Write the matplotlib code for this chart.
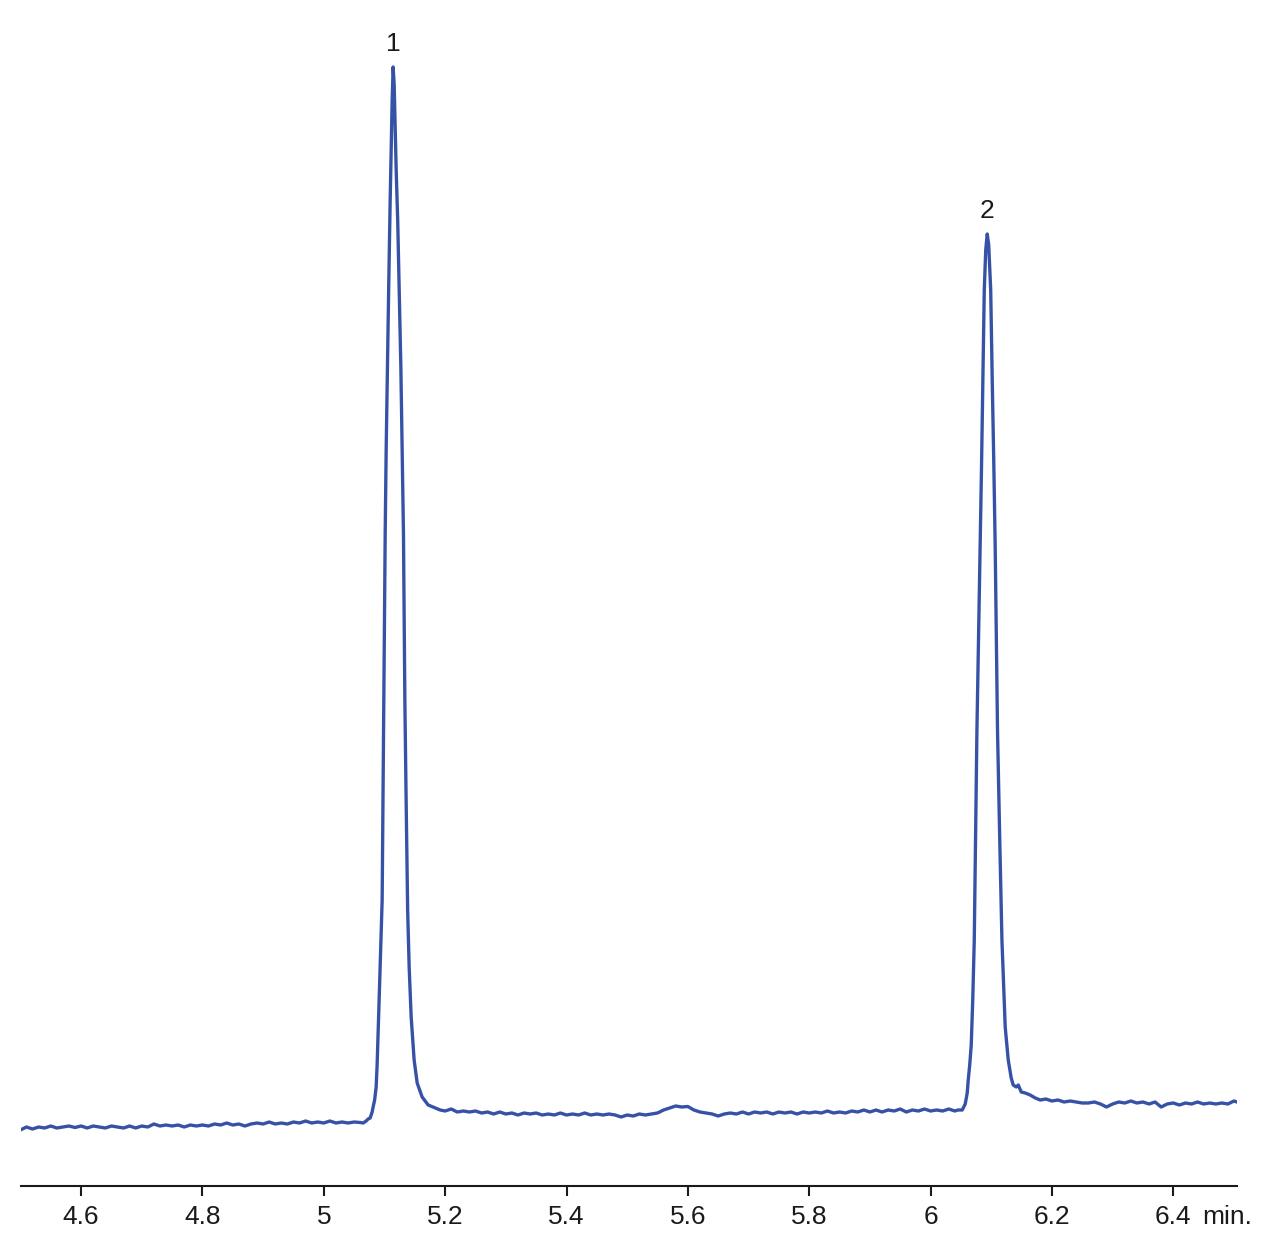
import matplotlib
matplotlib.use('Agg')
import matplotlib.pyplot as plt
import numpy as np

plt.rcParams['font.family'] = ['Liberation Sans', 'DejaVu Sans']

# retention time (min) and detector signal (arbitrary units)
time_pre = [4.50, 4.51, 4.52, 4.53, 4.54, 4.55, 4.56, 4.57, 4.58, 4.59,
            4.60, 4.61, 4.62, 4.63, 4.64, 4.65, 4.66, 4.67, 4.68, 4.69,
            4.70, 4.71, 4.72, 4.73, 4.74, 4.75, 4.76, 4.77, 4.78, 4.79,
            4.80, 4.81, 4.82, 4.83, 4.84, 4.85, 4.86, 4.87, 4.88, 4.89,
            4.90, 4.91, 4.92, 4.93, 4.94, 4.95, 4.96, 4.97, 4.98, 4.99,
            5.00, 5.01, 5.02, 5.03, 5.04, 5.05, 5.06, 5.065]
signal_pre = [5.6, 5.9, 5.7, 5.9, 5.8, 6.0, 5.8, 5.9, 6.0, 5.85,
              6.0, 5.8, 6.0, 5.9, 5.8, 6.0, 5.9, 5.8, 6.0, 5.8,
              6.0, 5.9, 6.2, 6.0, 6.1, 6.0, 6.1, 5.9, 6.1, 6.0,
              6.1, 6.0, 6.2, 6.1, 6.3, 6.1, 6.2, 6.0, 6.2, 6.3,
              6.2, 6.4, 6.2, 6.3, 6.2, 6.4, 6.3, 6.5, 6.3, 6.4,
              6.3, 6.5, 6.3, 6.4, 6.3, 6.4, 6.35, 6.3]

time_peak1 = [5.0698, 5.0731, 5.0764, 5.0797, 5.0813, 5.0838, 5.0863, 5.0879,
              5.0896, 5.0912, 5.0929, 5.0945, 5.0962, 5.0990, 5.1012, 5.1028,
              5.1049, 5.1069, 5.1094, 5.1110, 5.1127, 5.1143, 5.1160, 5.1176,
              5.1193, 5.1218, 5.1242, 5.1270, 5.1292, 5.1313, 5.1336, 5.1357,
              5.1382, 5.1407, 5.1440, 5.1489, 5.1539, 5.1621, 5.1720, 5.1836,
              5.1918]
signal_peak1 = [6.5, 6.7, 6.8, 7.4, 7.9, 8.6, 9.9, 12.1,
                15.3, 18.6, 21.9, 25.1, 28.6, 48.6, 65.3, 73.6,
                81.9, 89.6, 98.6, 103.6, 108.6, 111.9, 110.1, 106.1,
                101.6, 96.6, 89.6, 81.9, 73.6, 65.3, 48.6, 38.6,
                27.6, 21.9, 16.9, 12.6, 10.3, 8.9, 8.1, 7.8,
                7.6]

time_mid = [5.20, 5.21, 5.22, 5.23, 5.24, 5.25, 5.26, 5.27, 5.28, 5.29,
            5.30, 5.31, 5.32, 5.33, 5.34, 5.35, 5.36, 5.37, 5.38, 5.39,
            5.40, 5.41, 5.42, 5.43, 5.44, 5.45, 5.46, 5.47, 5.48, 5.49,
            5.50, 5.51, 5.52, 5.53, 5.54, 5.55, 5.56, 5.57, 5.58, 5.59,
            5.60, 5.61, 5.62, 5.63, 5.64, 5.65, 5.66, 5.67, 5.68, 5.69,
            5.70, 5.71, 5.72, 5.73, 5.74, 5.75, 5.76, 5.77, 5.78, 5.79,
            5.80, 5.81, 5.82, 5.83, 5.84, 5.85, 5.86, 5.87, 5.88, 5.89,
            5.90, 5.91, 5.92, 5.93, 5.94, 5.95, 5.96, 5.97, 5.98, 5.99,
            6.00, 6.01, 6.02, 6.03, 6.04, 6.045]
signal_mid = [7.5, 7.7, 7.4, 7.5, 7.4, 7.5, 7.3, 7.4, 7.2, 7.4,
              7.2, 7.3, 7.1, 7.3, 7.2, 7.3, 7.1, 7.2, 7.1, 7.3,
              7.1, 7.2, 7.1, 7.3, 7.1, 7.2, 7.1, 7.2, 7.1, 6.9,
              7.1, 7.0, 7.2, 7.1, 7.2, 7.3, 7.6, 7.8, 8.0, 7.9,
              7.95, 7.6, 7.4, 7.3, 7.2, 7.0, 7.2, 7.3, 7.2, 7.4,
              7.2, 7.4, 7.3, 7.4, 7.2, 7.4, 7.3, 7.4, 7.2, 7.4,
              7.3, 7.4, 7.3, 7.5, 7.3, 7.4, 7.3, 7.5, 7.4, 7.6,
              7.4, 7.6, 7.4, 7.6, 7.5, 7.7, 7.4, 7.6, 7.5, 7.7,
              7.5, 7.6, 7.5, 7.7, 7.5, 7.6]

time_peak2 = [6.0522, 6.0571, 6.0604, 6.0621, 6.0645, 6.0670, 6.0695, 6.0720,
              6.0741, 6.0764, 6.0790, 6.0818, 6.0840, 6.0860, 6.0885, 6.0909,
              6.0934, 6.0958, 6.0991, 6.1016, 6.1041, 6.1065, 6.1103, 6.1140,
              6.1176, 6.1197, 6.1230, 6.1280, 6.1329, 6.1362, 6.1412, 6.1445,
              6.1494, 6.1560, 6.1642, 6.1725, 6.1807]
signal_peak2 = [7.6, 8.2, 9.3, 10.6, 12.1, 14.1, 18.6, 24.6,
                34.6, 45.6, 54.6, 63.9, 72.1, 79.6, 89.6, 93.6,
                95.2, 94.1, 89.6, 80.6, 72.6, 63.9, 45.6, 34.6,
                24.6, 21.1, 15.9, 12.6, 10.8, 10.1, 9.9, 10.1,
                9.4, 9.3, 9.1, 8.8, 8.6]

time_post = [6.19, 6.20, 6.21, 6.22, 6.23, 6.24, 6.25, 6.26, 6.27, 6.28,
             6.29, 6.30, 6.31, 6.32, 6.33, 6.34, 6.35, 6.36, 6.37, 6.38,
             6.39, 6.40, 6.41, 6.42, 6.43, 6.44, 6.45, 6.46, 6.47, 6.48,
             6.49, 6.50, 6.505]
signal_post = [8.7, 8.5, 8.6, 8.4, 8.5, 8.4, 8.3, 8.3, 8.4, 8.2,
               7.9, 8.2, 8.4, 8.3, 8.5, 8.3, 8.4, 8.2, 8.4, 7.9,
               8.2, 8.3, 8.1, 8.3, 8.2, 8.4, 8.2, 8.3, 8.2, 8.3,
               8.2, 8.5, 8.4]

peak_labels = ['1', '2']
xticks = [4.6, 4.8, 5.0, 5.2, 5.4, 5.6, 5.8, 6.0, 6.2, 6.4]
xtick_labels = ['4.6', '4.8', '5', '5.2', '5.4', '5.6', '5.8', '6', '6.2', '6.4']

t = np.array(time_pre + time_peak1 + time_mid + time_peak2 + time_post)
s = np.array(signal_pre + signal_peak1 + signal_mid + signal_peak2 + signal_post)

fig = plt.figure(figsize=(12.61, 12.55), dpi=100)
ax = fig.add_axes([21 / 1261, 69 / 1255, 1216 / 1261, 1186 / 1255])
ax.plot(t, s, color='#3652a6', linewidth=2.4, solid_joinstyle='round')

ax.set_xlim(4.501, 6.505)
ax.set_ylim(0, 118.6)
for side in ['top', 'right', 'left']:
    ax.spines[side].set_visible(False)
ax.spines['bottom'].set_color('#1a1a1a')
ax.spines['bottom'].set_linewidth(1.5)
ax.set_yticks([])
ax.set_xticks(xticks)
ax.set_xticklabels(xtick_labels)
ax.tick_params(axis='x', direction='out', length=7.5, width=1.5,
               color='#1a1a1a', labelsize=19, pad=6.5, labelcolor='#1a1a1a')

ax.annotate('min.', xy=(6.4, 0), xytext=(21, -14), textcoords='offset points',
            ha='left', va='top', fontsize=19, color='#1a1a1a')

# peak numbers above each maximum
for lab, pt, ps in [(peak_labels[0], time_peak1, signal_peak1),
                    (peak_labels[1], time_peak2, signal_peak2)]:
    i = int(np.argmax(ps))
    ax.annotate(lab, xy=(pt[i], ps[i]), xytext=(0, 8), textcoords='offset points',
                ha='center', va='bottom', fontsize=19, color='#1a1a1a')

plt.savefig('out.png', dpi=100)
